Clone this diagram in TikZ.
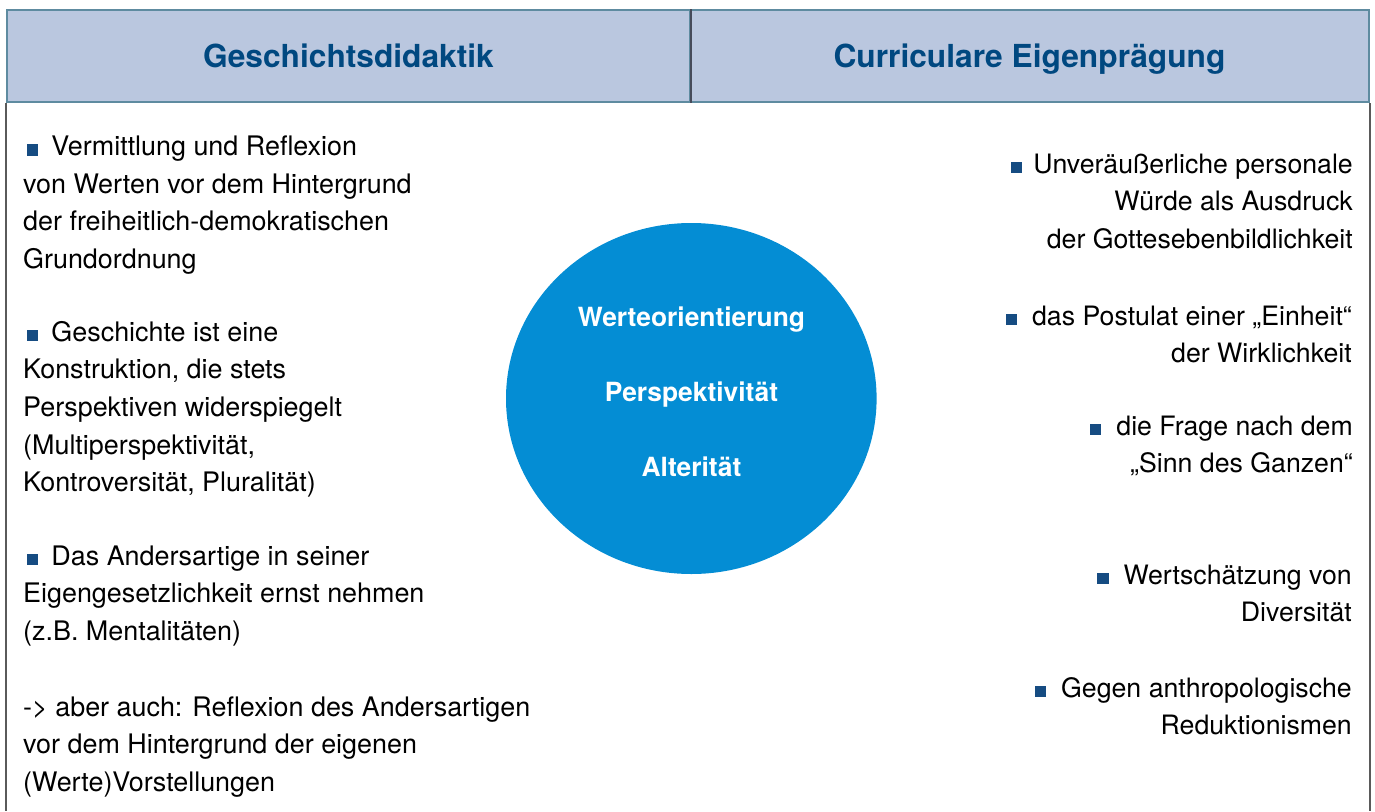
\documentclass[tikz,border=0pt]{standalone}
\usepackage{fontspec}
\setmainfont{TeX Gyre Heros}
\definecolor{kopfblau}{RGB}{186,199,223}
\definecolor{kopfrand}{RGB}{94,139,160}
\definecolor{kopftext}{RGB}{0,72,128}
\definecolor{trenn}{RGB}{70,75,90}
\definecolor{kreisblau}{RGB}{4,141,212}
\definecolor{punkt}{RGB}{22,76,130}
\definecolor{linie}{RGB}{90,90,90}
\newcommand{\pkt}{{\color{punkt}\rule{0.42em}{0.42em}}}
\begin{document}
\begin{tikzpicture}[x=1pt, y=-1pt,
    kopf/.style={draw=kopfrand, fill=kopfblau, line width=2pt, minimum height=92pt,
      inner sep=0pt, text height=22pt, text depth=0pt, text=kopftext,
      font=\fontsize{31.7}{36}\selectfont\bfseries},
    links/.style={anchor=base west, align=left, inner sep=0pt,
      font=\fontsize{26.9}{37.7}\selectfont},
    rechts/.style={anchor=base east, align=right, inner sep=0pt,
      font=\fontsize{26.7}{37.7}\selectfont},
    kreistext/.style={anchor=base, align=center, inner sep=0pt, text=white,
      font=\fontsize{26.4}{75}\selectfont\bfseries}]
    \useasboundingbox (0,0) rectangle (1375,811);

    % Header cells
    \node[kopf, minimum width=683pt] (gdkopf) at (348.5,56) {Geschichtsdidaktik};
    \node[kopf, minimum width=679pt] (cekopf) at (1029.5,56) {Curriculare Eigenprägung};
    \draw[trenn, line width=1.5pt] (gdkopf.north east) -- (gdkopf.south east);

    % Side lines of the body
    \draw[linie, line width=1.3pt] (gdkopf.south west) -- (gdkopf.south west |- 0,811);
    \draw[linie, line width=1.3pt] (cekopf.south east) -- (cekopf.south east |- 0,811);

    % Circle in the middle (nodes sit on the baseline of their last line)
    \fill[kreisblau] (691.3,398.5) ellipse (185.3 and 175.5);
    \node[kreistext] (werte) at (691.5,476)
      {Werteorientierung\\Perspektivität\\Alterität};

    % Left column
    \node[links] (gd1) at (23,268.6) {\hspace*{4pt}\pkt\hspace{13pt}Vermittlung und Reflexion\\
      von Werten vor dem Hintergrund\\der freiheitlich-demokratischen\\Grundordnung};
    \node[links] (gd2) at (23,491.8) {\hspace*{4pt}\pkt\hspace{13pt}Geschichte ist eine\\
      Konstruktion, die stets\\Perspektiven widerspiegelt\\(Multiperspektivität,\\
      Kontroversität, Pluralität)};
    \node[links] (gd3) at (23,640.4) {\hspace*{4pt}\pkt\hspace{13pt}Das Andersartige in seiner\\
      Eigengesetzlichkeit ernst nehmen\\(z.B. Mentalitäten)};
    \node[links] (gd4) at (23,791.4) {-> aber auch: Reflexion des Andersartigen\\
      vor dem Hintergrund der eigenen\\(Werte)Vorstellungen};

    % Right column
    \node[rechts] (ce1) at (1353,248.4) {\pkt\hspace{11pt}Unveräußerliche personale\\
      Würde als Ausdruck\\der Gottesebenbildlichkeit};
    \node[rechts] (ce2) at (1352,362.7) {\pkt\hspace{15pt}das Postulat einer „Einheit“\\
      der Wirklichkeit};
    \node[rechts] (ce3) at (1353,472.7) {\pkt\hspace{15pt}die Frage nach dem\\„Sinn des Ganzen“};
    \node[rechts] (ce4) at (1352,621.7) {\pkt\hspace{15pt}Wertschätzung von\\Diversität};
    \node[rechts] (ce5) at (1352,734.7) {\pkt\hspace{15pt}Gegen anthropologische\\Reduktionismen};
  \end{tikzpicture}
\end{document}
